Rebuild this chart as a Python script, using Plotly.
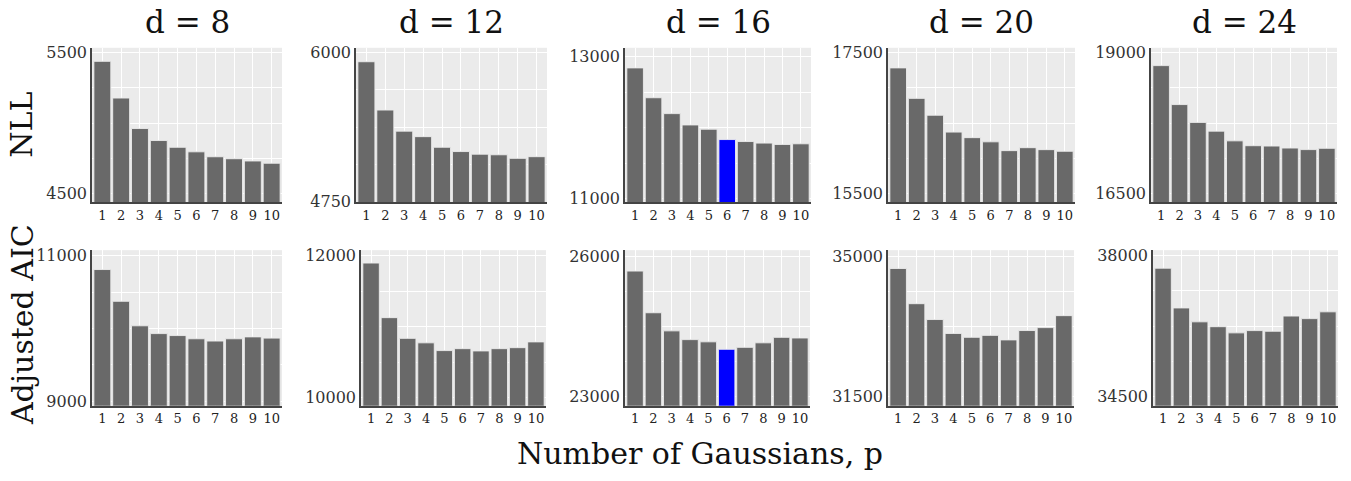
import plotly.graph_objects as go

# ---------------- data ----------------
p_values = [1, 2, 3, 4, 5, 6, 7, 8, 9, 10]
dims = [8, 12, 16, 20, 24]
panel_titles = ["d = 8", "d = 12", "d = 16", "d = 20", "d = 24"]
row_labels = ["NLL", "Adjusted AIC"]
x_title = "Number of Gaussians, p"

nll_d8 = [5438, 5178, 4962, 4877, 4829, 4797, 4762, 4748, 4732, 4716]
nll_d12 = [5924, 5519, 5342, 5296, 5207, 5171, 5149, 5144, 5114, 5128]
nll_d16 = [12844, 12423, 12199, 12039, 11979, 11833, 11805, 11783, 11764, 11773]
nll_d20 = [17284, 16852, 16613, 16374, 16295, 16236, 16111, 16153, 16125, 16102]
nll_d24 = [18770, 18080, 17764, 17609, 17437, 17351, 17345, 17310, 17282, 17305]

aic_d8 = [10809, 10373, 10036, 9929, 9902, 9858, 9827, 9858, 9884, 9867]
aic_d12 = [11895, 11127, 10836, 10773, 10664, 10691, 10659, 10691, 10705, 10786]
aic_d16 = [25688, 24792, 24403, 24215, 24167, 24007, 24049, 24146, 24264, 24250]
aic_d20 = [34701, 33818, 33421, 33072, 32975, 33024, 32910, 33145, 33218, 33518]
aic_d24 = [37687, 36702, 36358, 36238, 36085, 36141, 36125, 36502, 36438, 36606]

# highlighted p per d (None = no highlight)
highlight_p = [None, None, 6, None, None]

# y tick label values (min, max) per panel
nll_ticks = [(4500, 5500), (4750, 6000), (11000, 13000), (15500, 17500), (16500, 19000)]
aic_ticks = [(9000, 11000), (10000, 12000), (23000, 26000), (31500, 35000), (34500, 38000)]

nll_series = [nll_d8, nll_d12, nll_d16, nll_d20, nll_d24]
aic_series = [aic_d8, aic_d12, aic_d16, aic_d20, aic_d24]

# ---------------- layout config ----------------
W, H = 1351, 481
FONT = "DejaVu Serif"
BAR = "#696969"
HL = "#0000ff"

top_x_px = [(92, 282), (356, 547), (625, 811), (888, 1075), (1151, 1337)]
bot_x_px = [(92, 282), (361, 546), (625, 810), (888, 1074), (1153, 1338)]
top_y_px = (45, 204)
bot_y_px = (253, 413)

nll_ranges = [(4438, 5534), (4744, 6041), (10945, 13128), (15376, 17569), (16345, 19086)]
aic_ranges = [(8937, 11075), (9887, 12076), (22792, 26137), (31257, 35160), (34277, 38134)]

fig = go.Figure()
layout = dict(
    width=W, height=H,
    margin=dict(l=0, r=0, t=0, b=0),
    paper_bgcolor="white",
    plot_bgcolor="#ebebeb",
    showlegend=False,
    bargap=0.1,
    font=dict(family=FONT, color="#333"),
)

def ydom(px):
    return [1 - px[1] / H, 1 - px[0] / H]

idx = 0
for row, (series, ticks, ranges, xpx, ypx) in enumerate([
    (nll_series, nll_ticks, nll_ranges, top_x_px, top_y_px),
    (aic_series, aic_ticks, aic_ranges, bot_x_px, bot_y_px),
]):
    for col in range(5):
        idx += 1
        xa = "x" if idx == 1 else f"x{idx}"
        ya = "y" if idx == 1 else f"y{idx}"
        colors = [HL if highlight_p[col] == p else BAR for p in p_values]
        fig.add_trace(go.Bar(
            x=p_values, y=series[col], xaxis=xa, yaxis=ya,
            marker=dict(color=colors, line=dict(color="rgba(235,235,235,0.9)", width=1)),
            hoverinfo="x+y",
        ))
        lo, hi = ticks[col]
        step = (hi - lo) / 4
        tv = [lo + k * step for k in range(5)]
        tt = [str(lo), "", "", "", str(hi)]
        layout["xaxis" if idx == 1 else f"xaxis{idx}"] = dict(
            domain=[xpx[col][0] / W, xpx[col][1] / W],
            anchor=ya,
            range=[0.45, 10.55],
            tickvals=p_values,
            ticktext=[str(p) for p in p_values],
            tickfont=dict(family=FONT, size=13, color="#222"),
            showgrid=True, gridcolor="white", gridwidth=1,
            showline=True, linecolor="#444", linewidth=1.5,
            ticks="", zeroline=False, fixedrange=True,
        )
        layout["yaxis" if idx == 1 else f"yaxis{idx}"] = dict(
            domain=ydom(ypx),
            anchor=xa,
            range=list(ranges[col]),
            tickvals=tv, ticktext=tt,
            tickfont=dict(family=FONT, size=16, color="#333"),
            showgrid=True, gridcolor="white", gridwidth=1,
            showline=True, linecolor="#444", linewidth=1.5,
            ticks="", zeroline=False, fixedrange=True,
        )

annotations = []
for col in range(5):
    cx = (top_x_px[col][0] + top_x_px[col][1]) / 2 / W
    annotations.append(dict(
        text=panel_titles[col], x=cx, y=1 - 19 / H, xref="paper", yref="paper",
        xanchor="center", yanchor="middle", showarrow=False,
        font=dict(family=FONT, size=31, color="#111"),
    ))
annotations.append(dict(
    text=row_labels[0], x=22 / W, y=1 - 124 / H, xref="paper", yref="paper",
    xanchor="center", yanchor="middle", showarrow=False, textangle=-90,
    font=dict(family=FONT, size=30, color="#111"),
))
annotations.append(dict(
    text=row_labels[1], x=22 / W, y=1 - 330 / H, xref="paper", yref="paper",
    xanchor="center", yanchor="middle", showarrow=False, textangle=-90,
    font=dict(family=FONT, size=30, color="#111"),
))
annotations.append(dict(
    text=x_title, x=700 / W, y=1 - 462 / H, xref="paper", yref="paper",
    xanchor="center", yanchor="middle", showarrow=False,
    font=dict(family=FONT, size=30, color="#111"),
))
layout["annotations"] = annotations

fig.update_layout(**layout)
fig.write_html("out.html")
